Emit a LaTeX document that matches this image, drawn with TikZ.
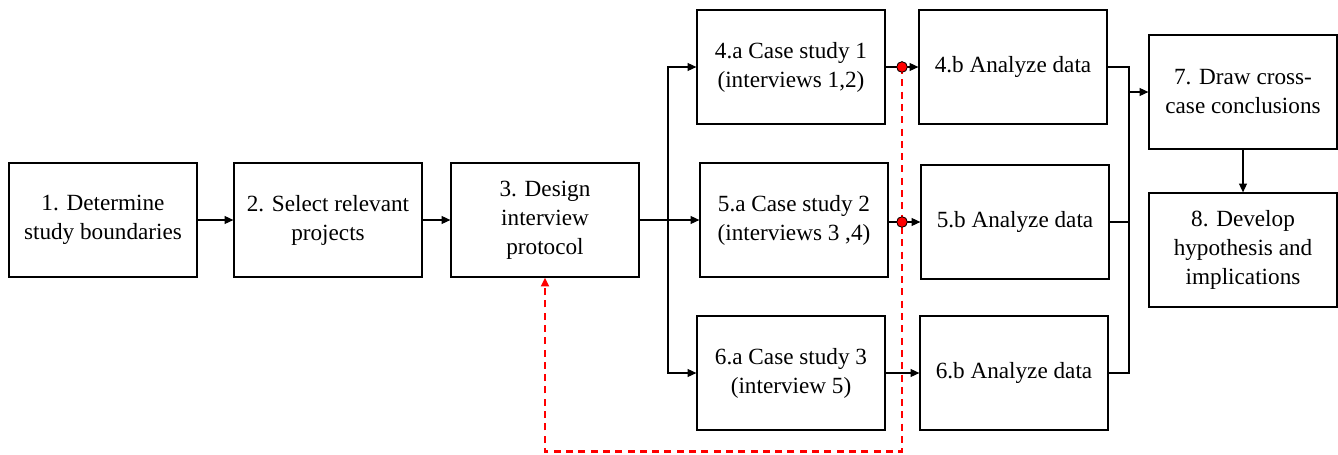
\documentclass[tikz,border=0pt]{standalone}
\usepackage{fontspec}
\setmainfont{Liberation Serif}
\newfontfamily\timesface{Liberation Serif}
\usepackage{tikz}
\usetikzlibrary{calc,positioning,arrows.meta}
\usepackage{xcolor}

\begin{document}
\begin{tikzpicture}[
    stage/.style={draw=black, line width=0.7pt, minimum width=3.76cm, minimum height=2.28cm,
        align=center, inner sep=2pt, font=\timesface\fontsize{13.2pt}{16.5pt}\selectfont},
    conn/.style={line width=0.7pt, -{Triangle[length=5pt,width=4.5pt]}},
    plain/.style={line width=0.7pt},
    feedback/.style={red, line width=1.2pt, dash pattern=on 4pt off 3pt,
        -{Triangle[length=5pt,width=4.5pt]}},
    reddot/.style={circle, draw=black, fill=red, line width=0.4pt, minimum size=0.21cm, inner sep=0pt}
]
    % 画布大小
    \useasboundingbox (0,0) rectangle (26.76,9.08);

    % 前三个步骤
    \node[stage] (bound) at (2.06,4.68) {1. Determine\\study boundaries};
    \node[stage] (select) at (6.56,4.68) {2. Select relevant\\projects};
    \node[stage] (design) at (10.90,4.68) {3. Design\\interview\\protocol};

    % 三个案例研究
    \node[stage] (case1) at (15.82,7.74) {4.a Case study 1\\(interviews 1,2)};
    \node[stage] (case2) at (15.88,4.68) {5.a Case study 2\\(interviews 3 ,4)};
    \node[stage] (case3) at (15.82,1.62) {6.a Case study 3\\(interview 5)};

    % 数据分析
    \node[stage] (ana1) at (20.26,7.74) {4.b Analyze data};
    \node[stage] (ana2) at (20.30,4.64) {5.b Analyze data};
    \node[stage] (ana3) at (20.28,1.62) {6.b Analyze data};

    % 结论
    \node[stage] (cross) at (24.86,7.24) {7. Draw cross-\\case conclusions};
    \node[stage] (hypo) at (24.86,4.08) {8. Develop\\hypothesis and\\implications};

    % 分支点和汇合点
    \coordinate (branch) at (13.36,4.68);
    \coordinate (join) at (22.58,7.24);
    \coordinate (loop) at (18.04,0.05);

    % 主流程箭头
    \draw[conn] (bound) -- (select);
    \draw[conn] (select) -- (design);
    \draw[plain] (design.east) -- (branch);
    \draw[conn] (branch) |- (case1.west);
    \draw[conn] (branch) -- (case2.west);
    \draw[conn] (branch) |- (case3.west);

    \draw[conn] (case1.east) -- (ana1.west |- case1.east);
    \draw[conn] (case2.east |- ana2.west) -- (ana2.west);
    \draw[conn] (case3.east) -- (ana3.west |- case3.east);

    \draw[plain] (ana1.east) -| (join);
    \draw[plain] (ana2.east) -| (join);
    \draw[plain] (ana3.east) -| (join);
    \draw[conn] (join) -- (cross.west);
    \draw[conn] (cross) -- (hypo);

    % 反馈虚线
    \node[reddot] (dot1) at (18.04,7.74) {};
    \node[reddot] (dot2) at (18.04,4.64) {};
    \draw[feedback] (dot1.center) -- (loop) -| (design.south);
    \node[reddot] at (dot1) {};
    \node[reddot] at (dot2) {};
\end{tikzpicture}
\end{document}
